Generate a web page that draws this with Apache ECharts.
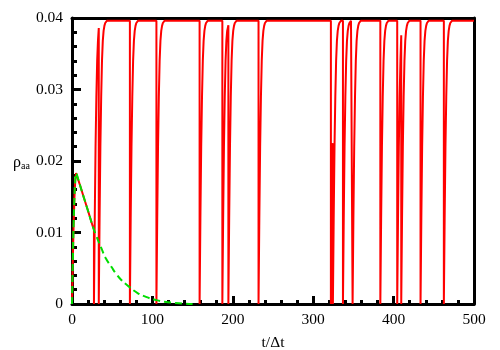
<!DOCTYPE html>
<html>
<head>
<meta charset="utf-8">
<script src="https://cdn.jsdelivr.net/npm/echarts@6/dist/echarts.min.js"></script>
<style>
html,body{margin:0;padding:0;background:#fff;}
#chart{width:500px;height:350px;}
</style>
</head>
<body>
<div id="chart"></div>
<script>
// x axis range / ticks
const xRange = [0, 500];
const yRange = [0, 0.04];
const xTickStep = 100;
const yTickStep = 0.01;

// red trajectory: [t, rho_aa]
const redPoints = [
  [0,0],[1,0.006],[2,0.011],[3,0.0148],[4,0.0172],[5,0.0183],[6,0.0181],[10,0.0166],[15,0.0148],[20,0.0130],[26,0.0108],[27.3,0.0104],
  [27.3,0],[28.3,0.012],[29.3,0.022],[30.3,0.029],[31.3,0.034],[32.3,0.0368],[33.3,0.0386],
  [33.3,0],[34.3,0.012],[35.3,0.022],[36.3,0.029],[37.3,0.034],[38.3,0.0368],[39.3,0.0382],[40.3,0.0389],[41.3,0.0393],[43.3,0.0396],
  [72,0.0396],[72,0],[73,0.012],[74,0.022],[75,0.029],[76,0.034],[77,0.0368],[78,0.0382],[79,0.0389],[80,0.0393],[82,0.0396],
  [105,0.0396],[105,0],[106,0.012],[107,0.022],[108,0.029],[109,0.034],[110,0.0368],[111,0.0382],[112,0.0389],[113,0.0393],[115,0.0396],
  [158.7,0.0396],[158.7,0],[159.7,0.012],[160.7,0.022],[161.7,0.029],[162.7,0.034],[163.7,0.0368],[164.7,0.0382],[165.7,0.0389],[166.7,0.0393],[168.7,0.0396],
  [187,0.0396],[187,0],[188,0.012],[189,0.022],[190,0.029],[191,0.034],[192,0.0368],[193,0.0382],[194.5,0.039],
  [194.5,0],[195.5,0.012],[196.5,0.022],[197.5,0.029],[198.5,0.034],[199.5,0.0368],[200.5,0.0382],[201.5,0.0389],[202.5,0.0393],[204.5,0.0396],
  [232,0.0396],[232,0],[233,0.012],[234,0.022],[235,0.029],[236,0.034],[237,0.0368],[238,0.0382],[239,0.0389],[240,0.0393],[242,0.0396],
  [322,0.0396],[322,0],[323,0.012],[324.5,0.0225],
  [324.5,0],[325.5,0.012],[326.5,0.022],[327.5,0.029],[328.5,0.034],[329.5,0.0368],[330.5,0.0382],[331.5,0.0389],[332.5,0.0393],[334.5,0.0396],
  [337,0.0396],[337,0],[338,0.012],[339,0.022],[340,0.029],[341,0.034],[342,0.0368],[343,0.0382],[344,0.0389],[345,0.0393],[347,0.0396],
  [349,0.0396],[349,0],[350,0.012],[351,0.022],[352,0.029],[353,0.034],[354,0.0368],[355,0.0382],[356,0.0389],[357,0.0393],[359,0.0396],
  [383.5,0.0396],[383.5,0],[384.5,0.012],[385.5,0.022],[386.5,0.029],[387.5,0.034],[388.5,0.0368],[389.5,0.0382],[390.5,0.0389],[391.5,0.0393],[393.5,0.0396],
  [404.5,0.0396],[404.5,0],[405.5,0.012],[406.5,0.022],[407.5,0.029],[408.5,0.034],[409.5,0.0376],
  [409.5,0],[410.5,0.012],[411.5,0.022],[412.5,0.029],[413.5,0.034],[414.5,0.0368],[415.5,0.0382],[416.5,0.0389],[417.5,0.0393],[419.5,0.0396],
  [433.5,0.0396],[433.5,0],[434.5,0.012],[435.5,0.022],[436.5,0.029],[437.5,0.034],[438.5,0.0368],[439.5,0.0382],[440.5,0.0389],[441.5,0.0393],[443.5,0.0396],
  [462.5,0.0396],[462.5,0],[463.5,0.012],[464.5,0.022],[465.5,0.029],[466.5,0.034],[467.5,0.0368],[468.5,0.0382],[469.5,0.0389],[470.5,0.0393],[472.5,0.0396],
  [500,0.0396]
];

// green dashed ensemble average: [t, rho_aa]
const greenPoints = [
  [0,0],[1,0.006],[2,0.011],[3,0.0148],[4,0.0172],[5,0.0183],[6,0.0181],[10,0.0166],[15,0.0148],[20,0.0130],[26,0.0108],
  [30,0.0096],[36.5,0.0078],[42,0.0064],[49,0.0052],[55,0.0042],[61,0.0034],[70,0.0025],[82,0.0015],[92,0.0010],
  [103,0.0006],[115,0.0003],[128,0.00015],[140,0.00005],[150,0]
];

const font = 'Liberation Serif';
const chart = echarts.init(document.getElementById('chart'), null, {renderer:'canvas'});
chart.setOption({
  animation: false,
  backgroundColor: '#fff',
  grid: {left: 72, right: 26, top: 18, bottom: 46, show: false, containLabel: false, outerBoundsMode: 'none'},
  xAxis: [{
    type: 'value', min: xRange[0], max: xRange[1], interval: xTickStep,
    name: 't/Δt', nameLocation: 'middle', nameGap: 31,
    nameTextStyle: {fontFamily: font, fontSize: 15.5, color: '#000'},
    axisLine: {show: true, onZero: false, lineStyle: {color: '#000', width: 3}},
    axisTick: {show: true, inside: true, length: 8, lineStyle: {color: '#000', width: 3}},
    minorTick: {show: true, splitNumber: 5, length: 4, lineStyle: {color: '#000', width: 3}},
    axisLabel: {fontFamily: font, fontSize: 15.5, color: '#000', margin: 8},
    splitLine: {show: false}
  }, {
    type: 'value', position: 'top', min: xRange[0], max: xRange[1], interval: xTickStep,
    axisLine: {show: true, onZero: false, lineStyle: {color: '#000', width: 3}},
    axisTick: {show: false}, axisLabel: {show: false}, splitLine: {show: false}
  }],
  yAxis: [{
    type: 'value', min: yRange[0], max: yRange[1], interval: yTickStep,
    name: '{r|ρ}{s|aa}', nameLocation: 'middle', nameGap: 42, nameRotate: 0,
    nameTextStyle: {
      fontFamily: font, color: '#000',
      rich: {
        r: {fontFamily: font, fontSize: 16, color: '#000', padding: [3, 0, 0, 0]},
        s: {fontFamily: font, fontSize: 10, color: '#000', padding: [11, 0, 0, 0]}
      }
    },
    axisLine: {show: true, onZero: false, lineStyle: {color: '#000', width: 3}},
    axisTick: {show: true, inside: true, length: 9, lineStyle: {color: '#000', width: 3}},
    minorTick: {show: true, splitNumber: 5, length: 5, lineStyle: {color: '#000', width: 3}},
    axisLabel: {fontFamily: font, fontSize: 15.5, color: '#000', margin: 9},
    splitLine: {show: false}
  }, {
    type: 'value', position: 'right', min: yRange[0], max: yRange[1], interval: yTickStep,
    axisLine: {show: true, onZero: false, lineStyle: {color: '#000', width: 3}},
    axisTick: {show: false}, axisLabel: {show: false}, splitLine: {show: false}
  }],
  series: [{
    type: 'line', data: redPoints, showSymbol: false, symbol: 'none',
    lineStyle: {color: '#ff0000', width: 2}, z: 2
  }, {
    type: 'line', data: greenPoints, showSymbol: false, symbol: 'none', smooth: true,
    lineStyle: {color: '#00dd00', width: 2, type: [7, 4]}, z: 3
  }]
});
</script>
</body>
</html>
